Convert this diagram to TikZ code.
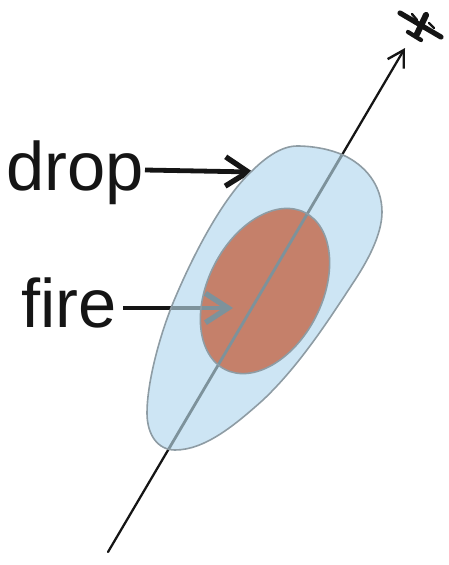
\documentclass[tikz,border=0pt]{standalone}
\usepackage{fontspec}
\setmainfont{Liberation Sans}
\usetikzlibrary{arrows.meta}
\definecolor{inkc}{HTML}{151515}
\definecolor{dropfill}{HTML}{CDE5F4}
\definecolor{firefill}{HTML}{C5806A}
\definecolor{edgec}{HTML}{8E9CA4}
\definecolor{underc}{HTML}{7D929B}
\tikzset{
  every picture/.style={x=0.75pt,y=-0.75pt},
  labeltext/.style={font=\fontsize{51.5pt}{51.5pt}\selectfont,text=inkc,inner sep=0pt,anchor=base west},
  flight/.style={line width=1.7pt,line cap=round,-{Straight Barb[length=12pt,width=14pt,line width=1.8pt]}},
  pointer/.style={line width=3.6pt,-{Straight Barb[length=17pt,width=22pt,line width=4pt]}},
  planewing/.style={line width=3.9pt,draw=inkc,line cap=round},
  planebody/.style={line width=4.6pt,draw=inkc,line cap=round},
  planetail/.style={line width=3.2pt,draw=inkc,line cap=round},
  planethin/.style={line width=1.8pt,draw=inkc,line cap=round}
}
\def\blobpath{(297,146) .. controls (315,146) and (332,150) .. (343,155)
  .. controls (365,165) and (382,185) .. (382,212)
  .. controls (382,235) and (367,262) .. (353,283)
  .. controls (330,318) and (300,365) .. (263,400)
  .. controls (235,425) and (205,450) .. (175,450)
  .. controls (158,450) and (147,435) .. (147,413)
  .. controls (147,385) and (158,340) .. (173,303)
  .. controls (195,250) and (225,195) .. (253,170)
  .. controls (263,160) and (280,146) .. (297,146) -- cycle}
\def\firepath{(265,291) ellipse [x radius=88*0.75pt,y radius=57*0.75pt,rotate=63]}
\begin{document}
\begin{tikzpicture}
\useasboundingbox (0,0) rectangle (449,565);
\coordinate (flightstart) at (108,552);
\coordinate (flightend) at (405,48);
\coordinate (dropstart) at (145,170);
\coordinate (droptip) at (253,172);
\coordinate (firestart) at (123,308);
\coordinate (firetip) at (233,308);
\node[labeltext] (droplabel) at (6,190) {drop};
\node[labeltext] (firelabel) at (21,327) {fire};
% lines beneath the shapes
\draw[flight,draw=inkc] (flightstart) -- (flightend);
\draw[pointer,draw=inkc] (dropstart) -- (droptip);
\draw[pointer,draw=inkc] (firestart) -- (firetip);
% shapes
\fill[dropfill] \blobpath;
\fill[firefill] \firepath;
% lines seen through the shapes
\begin{scope}
  \clip \blobpath;
  \draw[flight,draw=underc,arrows=-,line width=2.1pt] (flightstart) -- (flightend);
  \draw[pointer,draw=underc] (firestart) -- (firetip);
\end{scope}
\draw[edgec,line width=1.2pt] \blobpath;
\draw[edgec,line width=1.2pt] \firepath;
% aircraft
\draw[planewing] (400,13) -- (441,37);
\draw[planebody] (426,15) -- (417,34);
\draw[planetail] (408,32) -- (421,40);
\draw[planethin] (412,14) -- (417,20);
\draw[planethin] (429,23) -- (434,28);
\end{tikzpicture}
\end{document}
